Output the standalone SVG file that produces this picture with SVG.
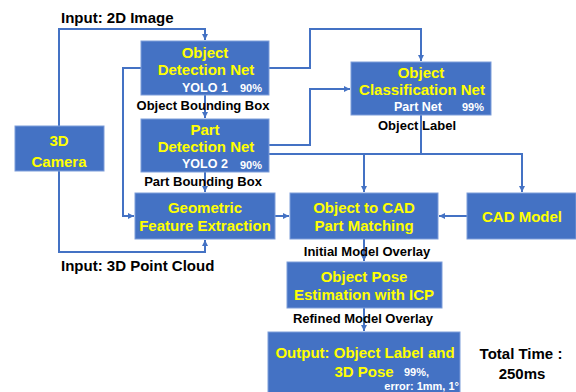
<svg xmlns="http://www.w3.org/2000/svg" width="576" height="392" viewBox="0 0 576 392">
<defs>
<style>
.box{fill:#4472C4;stroke:#7C9DDA;stroke-width:1}
.y{fill:#FFFF00;font-family:"Liberation Sans",Arial,sans-serif;font-weight:bold;font-size:15px;text-anchor:middle}
.w{fill:#FFFFFF;font-family:"Liberation Sans",Arial,sans-serif;font-weight:bold;font-size:12.5px}
.ws{fill:#FFFFFF;font-family:"Liberation Sans",Arial,sans-serif;font-weight:bold;font-size:11px}
.k{fill:#000000;font-family:"Liberation Sans",Arial,sans-serif;font-weight:bold;font-size:13px;text-anchor:middle}
.kb{fill:#000000;font-family:"Liberation Sans",Arial,sans-serif;font-weight:bold;font-size:15px}
.c{fill:none;stroke:#4472C4;stroke-width:2}
</style>
<marker id="ar" markerUnits="userSpaceOnUse" markerWidth="8" markerHeight="8" refX="7" refY="4" orient="auto">
<path d="M1,1 L7,4 L1,7 Z" fill="#4472C4"/>
</marker>
</defs>
<rect width="576" height="392" fill="#FFFFFF"/>
<g id="connectors">
<path class="c" d="M59,126 V29 H205 V40" marker-end="url(#ar)"/>
<path class="c" d="M141,68 H123 V216 H134" marker-end="url(#ar)"/>
<path class="c" d="M269,68 H310 V29 H421 V61" marker-end="url(#ar)"/>
<path class="c" d="M205,95 V118" marker-end="url(#ar)"/>
<path class="c" d="M269,145 H310 V89 H350" marker-end="url(#ar)"/>
<path class="c" d="M269,154 H522 V192" marker-end="url(#ar)"/>
<path class="c" d="M364,154 V192" marker-end="url(#ar)"/>
<path class="c" d="M421,115 V154"/>
<path class="c" d="M205,172 V192" marker-end="url(#ar)"/>
<path class="c" d="M59,171 V252 H205 V240" marker-end="url(#ar)"/>
<path class="c" d="M275,216 H289" marker-end="url(#ar)"/>
<path class="c" d="M467,216 H439" marker-end="url(#ar)"/>
<path class="c" d="M364,239 V261" marker-end="url(#ar)"/>
<path class="c" d="M364,308 V331" marker-end="url(#ar)"/>
</g>
<g id="labels">
<text class="kb" x="61" y="23">Input: 2D Image</text>
<text class="k" x="203" y="110">Object Bounding Box</text>
<text class="k" x="203" y="186">Part Bounding Box</text>
<text class="k" x="417" y="130">Object Label</text>
<text class="kb" x="61" y="271">Input: 3D Point Cloud</text>
<text class="k" x="367" y="256">Initial Model Overlay</text>
<text class="k" x="363" y="323">Refined Model Overlay</text>
<text class="kb" x="521" y="359" text-anchor="middle">Total Time :</text>
<text class="kb" x="522" y="379" text-anchor="middle">250ms</text>
</g>
<g id="camera">
<rect class="box" x="15" y="126" width="89" height="45"/>
<text class="y" x="59" y="146" font-size="17">3D</text>
<text class="y" x="59" y="167" font-size="17">Camera</text>
</g>
<g id="object-detection">
<rect class="box" x="141" y="41" width="128" height="54"/>
<text class="y" x="205" y="58">Object</text>
<text class="y" x="206" y="75">Detection Net</text>
<text class="w" x="182" y="92">YOLO 1</text>
<text class="ws" x="240" y="92">90%</text>
</g>
<g id="part-detection">
<rect class="box" x="141" y="119" width="128" height="53"/>
<text class="y" x="205" y="135">Part</text>
<text class="y" x="206" y="152">Detection Net</text>
<text class="w" x="182" y="168">YOLO 2</text>
<text class="ws" x="240" y="169">90%</text>
</g>
<g id="object-classification">
<rect class="box" x="351" y="62" width="140" height="53"/>
<text class="y" x="421" y="78">Object</text>
<text class="y" x="422" y="95">Classification Net</text>
<text class="w" x="394" y="111" font-size="13.5">Part Net</text>
<text class="ws" x="462" y="111">99%</text>
</g>
<g id="geometric-feature">
<rect class="box" x="135" y="193" width="140" height="46"/>
<text class="y" x="205" y="213">Geometric</text>
<text class="y" x="205" y="231">Feature Extraction</text>
</g>
<g id="cad-matching">
<rect class="box" x="290" y="193" width="148" height="46"/>
<text class="y" x="364" y="213">Object to CAD</text>
<text class="y" x="364" y="231">Part Matching</text>
</g>
<g id="cad-model">
<rect class="box" x="467" y="193" width="109" height="46"/>
<text class="y" x="522" y="222">CAD Model</text>
</g>
<g id="pose-estimation">
<rect class="box" x="287" y="262" width="155" height="46"/>
<text class="y" x="364" y="282">Object Pose</text>
<text class="y" x="364" y="300">Estimation with ICP</text>
</g>
<g id="output">
<rect class="box" x="268" y="332" width="192" height="64"/>
<text class="y" x="365" y="358">Output: Object Label and</text>
<text class="y" x="364" y="377">3D Pose</text>
<text class="ws" x="404" y="376">99%,</text>
<text class="ws" x="459" y="390" text-anchor="end" font-size="10.5">error: 1mm, 1°</text>
</g>
</svg>
